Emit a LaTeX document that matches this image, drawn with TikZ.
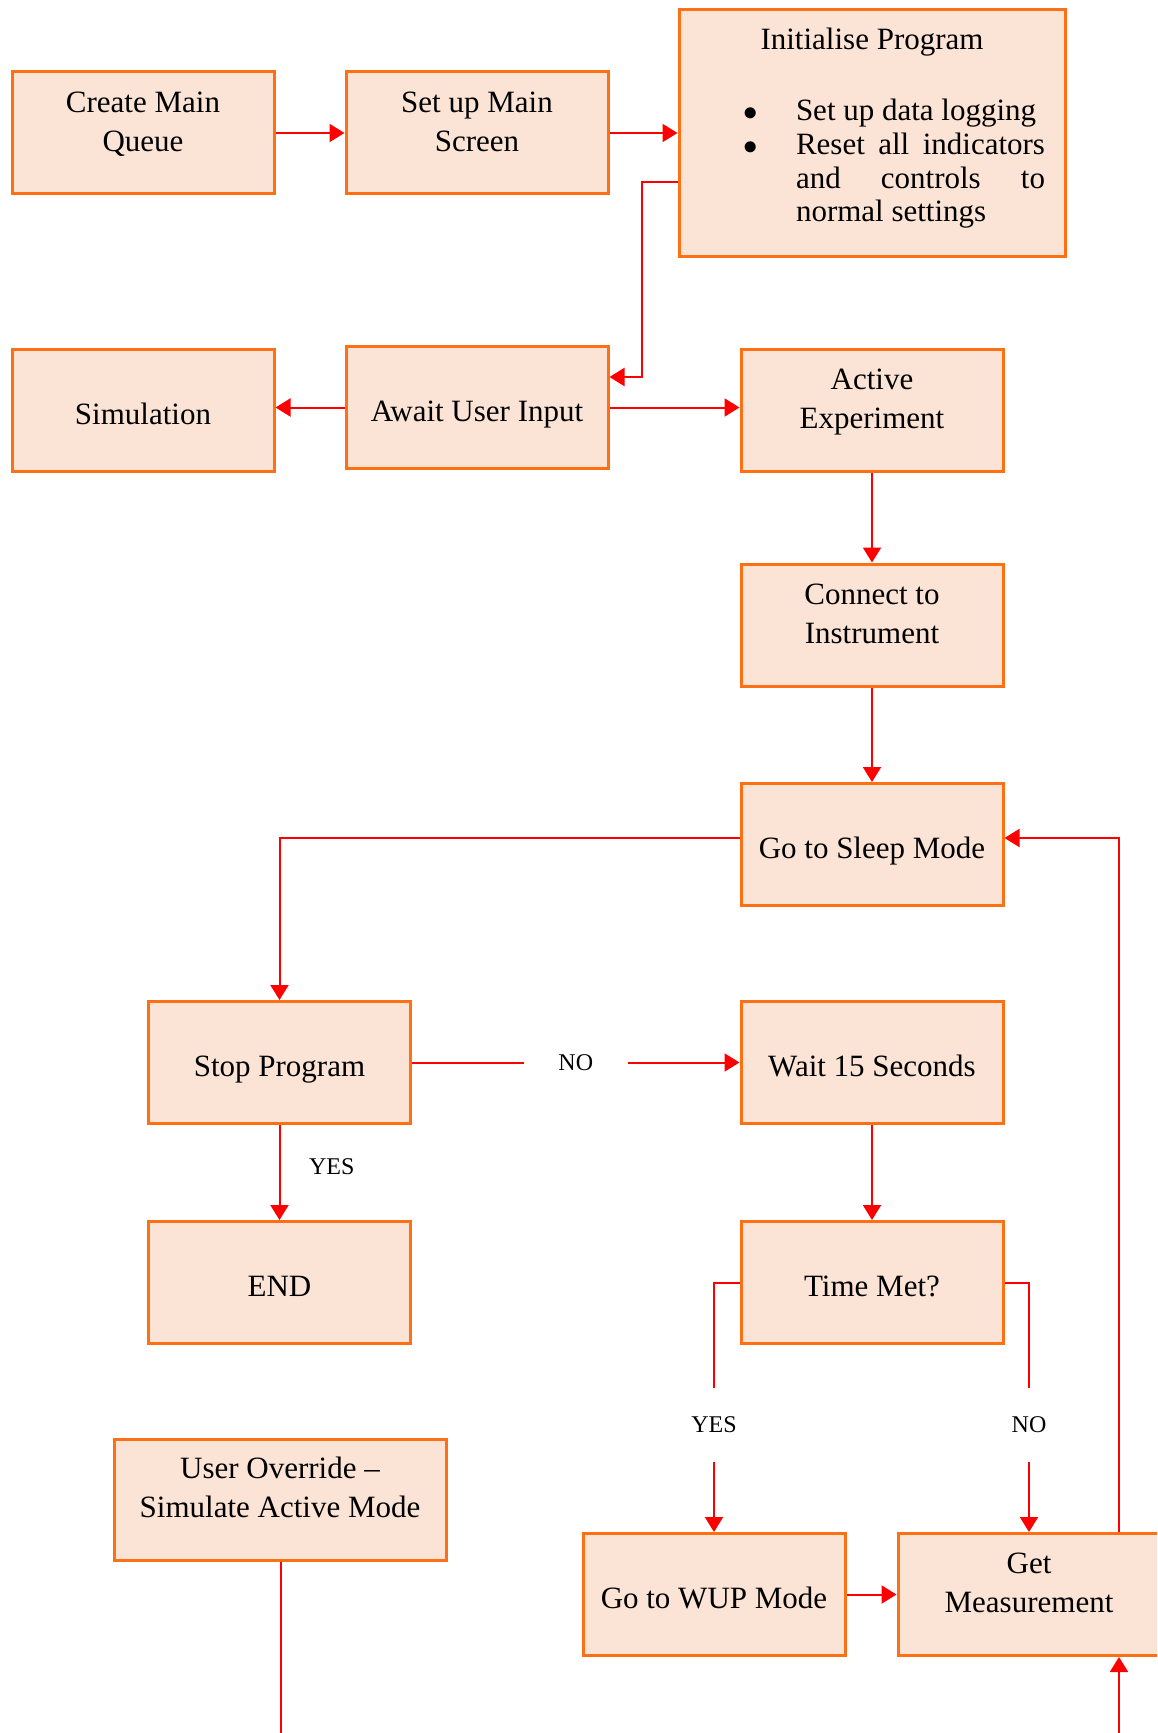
\documentclass[tikz,border=0pt]{standalone}
\usepackage{fontspec}
\setmainfont{Liberation Serif}
\usetikzlibrary{arrows.meta,calc}
\definecolor{boxfill}{HTML}{FBE4D5}
\definecolor{boxline}{RGB}{255,112,20}

\begin{document}
\begin{tikzpicture}[x=0.5pt,y=-0.5pt]
\tikzset{box/.style={draw=boxline, fill=boxfill, line width=1.5pt, minimum width=131pt, minimum height=61pt, text width=124pt, execute at begin node={\centering\spaceskip=0pt\xspaceskip=0pt\relax}, font=\fontsize{15.5}{19.5}\selectfont}}
\tikzset{oneline/.style={box, text height=13.8pt, text depth=0pt}}
\tikzset{twoline/.style={box, text height=5pt, text depth=25.6pt}}
\tikzset{flow/.style={draw=red, line width=1pt, -{Triangle[length=7.5pt,width=9pt]}}}
\tikzset{link/.style={draw=red, line width=1pt}}
\tikzset{tag/.style={font=\fontsize{12}{14}\selectfont}}
\tikzset{hgap/.style={tag, fill=white, inner sep=0pt, minimum width=52pt}}
\tikzset{vgap/.style={tag, fill=white, inner sep=0pt, minimum height=37pt}}
\useasboundingbox (0,0) rectangle (1157,1733);
\clip (0,0) rectangle (1157,1733);

\node[twoline] (queue) at (143,133) {Create Main\\Queue};
\node[twoline] (screen) at (477,133) {Set up Main\\Screen};
\node[box, text width=186pt, minimum width=193pt, minimum height=123.5pt, text height=5pt, text depth=88.3pt] (init) at (872,133)
  {Initialise Program\par
   \fontsize{15.5}{16.85}\selectfont
   \vspace{18.65pt}
   \leftskip=55pt \rightskip=6.5pt \parfillskip=0pt plus 1fil
   \leavevmode\llap{$\bullet$\hspace{19pt}}Set up data logging\par
   \leavevmode\llap{$\bullet$\hspace{19pt}}Reset all indicators\linebreak and controls to\linebreak normal settings\par};
\node[oneline] (sim) at (143,410.5) {Simulation};
\node[oneline] (await) at (477,407.5) {Await User Input};
\node[twoline] (active) at (872,410.5) {Active\\Experiment};
\node[twoline] (connect) at (872,625) {Connect to\\Instrument};
\node[oneline] (sleep) at (872,844.5) {Go to Sleep Mode};
\node[oneline] (stop) at (279.5,1062.5) {Stop Program};
\node[oneline] (wait) at (872,1062.5) {Wait 15 Seconds};
\node[oneline] (finish) at (279.5,1282.5) {END};
\node[oneline] (time) at (872,1282.5) {Time Met?};
\node[twoline, minimum width=166pt, minimum height=60.5pt, text width=159pt] (override) at (280,1499.5) {User Override --\\Simulate Active Mode};
\node[oneline] (wup) at (714,1594.5) {Go to WUP Mode};
\node[twoline] (meas) at (1029,1594.5) {Get\\Measurement};

\coordinate (inlet) at ($(meas.south)+(90,120)$);
\coordinate (outlet) at ($(override.south)+(1,200)$);

\draw[flow] (queue) -- (screen);
\draw[flow] (screen.east) -- (screen.east -| init.west);
\draw[flow] ($(init.west)+(0,49.5)$) -- ++(-36,0) |- ($(await.east)+(0,-30.5)$);
\draw[flow] (await.west) -- (await.west -| sim.east);
\draw[flow] (await.east) -- (await.east -| active.west);
\draw[flow] (active) -- (connect);
\draw[flow] (connect) -- (sleep);
\draw[flow] ($(sleep.west)+(0,-6.5)$) -| (stop.north);
\draw[flow] (stop.east) -- node[hgap]{NO} (wait.west);
\draw[flow] (stop) -- node[tag, right=11pt, yshift=3pt]{YES} (finish);
\draw[flow] (wait) -- (time);
\draw[flow] (time.west) -| node[vgap, pos=0.785]{YES} (wup.north);
\draw[flow] (time.east) -| node[vgap, pos=0.785]{NO} (meas.north);
\draw[flow] (wup.east) -- (wup.east -| meas.west);
\draw[flow] ($(meas.north)+(90,0)$) |- ($(sleep.east)+(0,-6.5)$);
\draw[flow] (inlet) -- ($(meas.south)+(90,0)$);
\draw[link] ($(override.south)+(1,0)$) -- (outlet);
\end{tikzpicture}
\end{document}
